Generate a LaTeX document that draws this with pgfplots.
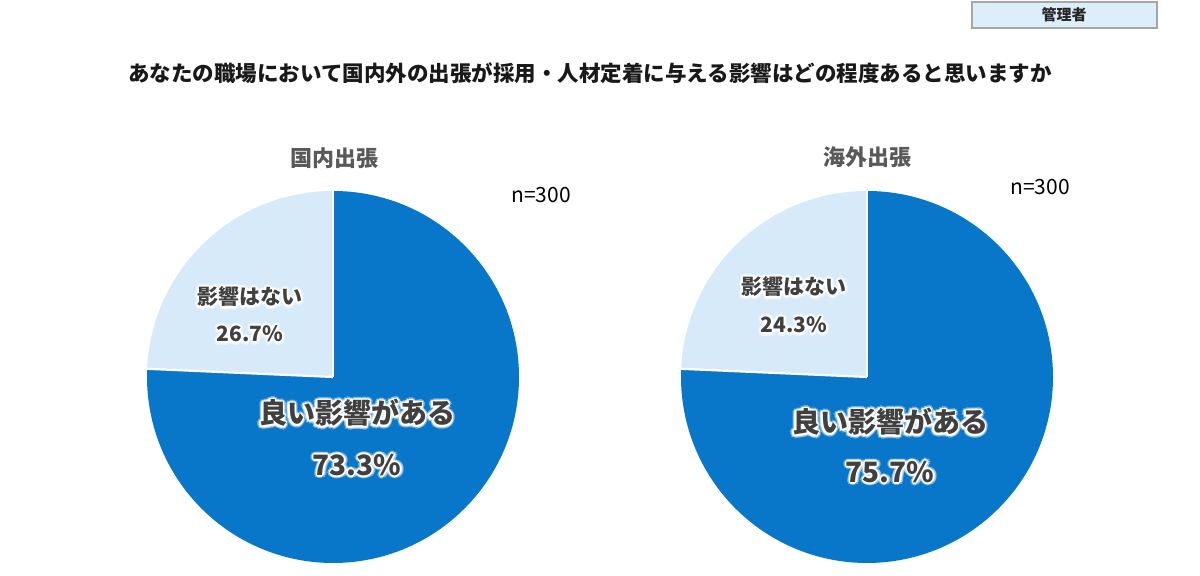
\documentclass[border=0pt]{standalone}
\usepackage{fontspec}
\setmainfont{Noto Sans CJK JP}
\usepackage{pgfplots}
\pgfplotsset{compat=1.18}
\definecolor{pieblue}{RGB}{8,119,201}
\definecolor{pielight}{RGB}{214,234,250}
\definecolor{labgray}{RGB}{64,64,64}
\definecolor{subgray}{RGB}{89,89,89}
\definecolor{boxfill}{RGB}{221,238,251}
\definecolor{boxline}{RGB}{166,166,166}
% data (percent)
\def\domGood{73.3}\def\domNone{26.7}
\def\ovsGood{75.7}\def\ovsNone{24.3}
% glow text: x, y (axis), font, text
\newcommand{\glow}[4]{%
  \node[text=white,opacity=0.4,font=#3,xshift=1.7pt] at (axis cs:#1,#2) {#4};
  \node[text=white,opacity=0.4,font=#3,xshift=-1.7pt] at (axis cs:#1,#2) {#4};
  \node[text=white,opacity=0.4,font=#3,yshift=1.7pt] at (axis cs:#1,#2) {#4};
  \node[text=white,opacity=0.4,font=#3,yshift=-1.7pt] at (axis cs:#1,#2) {#4};
  \node[text=white,opacity=0.4,font=#3,xshift=1.2pt,yshift=1.2pt] at (axis cs:#1,#2) {#4};
  \node[text=white,opacity=0.4,font=#3,xshift=-1.2pt,yshift=1.2pt] at (axis cs:#1,#2) {#4};
  \node[text=white,opacity=0.4,font=#3,xshift=1.2pt,yshift=-1.2pt] at (axis cs:#1,#2) {#4};
  \node[text=white,opacity=0.4,font=#3,xshift=-1.2pt,yshift=-1.2pt] at (axis cs:#1,#2) {#4};
  \node[text=white,font=#3,xshift=0.8pt] at (axis cs:#1,#2) {#4};
  \node[text=white,font=#3,xshift=-0.8pt] at (axis cs:#1,#2) {#4};
  \node[text=white,font=#3,yshift=0.8pt] at (axis cs:#1,#2) {#4};
  \node[text=white,font=#3,yshift=-0.8pt] at (axis cs:#1,#2) {#4};
  \node[text=white,font=#3,xshift=0.57pt,yshift=0.57pt] at (axis cs:#1,#2) {#4};
  \node[text=white,font=#3,xshift=-0.57pt,yshift=0.57pt] at (axis cs:#1,#2) {#4};
  \node[text=white,font=#3,xshift=0.57pt,yshift=-0.57pt] at (axis cs:#1,#2) {#4};
  \node[text=white,font=#3,xshift=-0.57pt,yshift=-0.57pt] at (axis cs:#1,#2) {#4};
  \node[text=labgray,font=#3] at (axis cs:#1,#2) {#4};
}
% pie: center x, center y (axis), good %, radius
\newcommand{\pie}[4]{%
  \pgfmathsetmacro{\endA}{90-3.6*#3}
  \fill[pieblue] (axis cs:#1,#2) -- ++(90:#4) arc[start angle=90, end angle=\endA, radius=#4] -- cycle;
  \fill[pielight] (axis cs:#1,#2) -- ++(\endA:#4) arc[start angle=\endA, end angle=-270, radius=#4] -- cycle;
  \draw[white,line width=1.1pt] (axis cs:#1,#2) -- ++(90:#4);
  \draw[white,line width=1.1pt] (axis cs:#1,#2) -- ++(\endA:#4);
}
\begin{document}
\begin{tikzpicture}
\begin{axis}[
  scale only axis, width=600pt, height=288pt,
  xmin=0, xmax=1200, ymin=0, ymax=576,
  hide axis, clip=false,
]
\path (axis cs:0,0) rectangle (axis cs:1200,576);
% header box
\draw[boxline, fill=boxfill, line width=0.6pt] (axis cs:972,574) rectangle (axis cs:1157,548);
\node[font=\bfseries\fontsize{7.5pt}{9pt}\selectfont, text=black!85] at (axis cs:1064,561) {管理者};
% title
\node[font=\bfseries\fontsize{10.75pt}{12pt}\selectfont, text=black!90] at (axis cs:590,503) {あなたの職場において国内外の出張が採用・人材定着に与える影響はどの程度あると思いますか};
% subtitles
\node[font=\bfseries\fontsize{11pt}{13pt}\selectfont, text=subgray] at (axis cs:334,418) {国内出張};
\node[font=\bfseries\fontsize{11pt}{13pt}\selectfont, text=subgray] at (axis cs:867,419) {海外出張};
\node[font=\fontsize{10.5pt}{12pt}\selectfont, text=black] at (axis cs:541,381) {n=300};
\node[font=\fontsize{10.5pt}{12pt}\selectfont, text=black] at (axis cs:1040,389) {n=300};
% pies
\pie{333}{199}{\domGood}{93pt}
\pie{867}{199}{\ovsGood}{93pt}
% labels
\glow{250}{279}{\bfseries\fontsize{10.5pt}{12pt}\selectfont}{影響はない}
\glow{250}{242}{\bfseries\fontsize{10.5pt}{12pt}\selectfont}{\domNone\%}
\glow{357}{163}{\bfseries\fontsize{14pt}{16pt}\selectfont}{良い影響がある}
\glow{357}{111}{\bfseries\fontsize{14pt}{16pt}\selectfont}{\domGood\%}
\glow{794}{289}{\bfseries\fontsize{10.5pt}{12pt}\selectfont}{影響はない}
\glow{794}{251}{\bfseries\fontsize{10.5pt}{12pt}\selectfont}{\ovsNone\%}
\glow{890}{154}{\bfseries\fontsize{14pt}{16pt}\selectfont}{良い影響がある}
\glow{890}{104}{\bfseries\fontsize{14pt}{16pt}\selectfont}{\ovsGood\%}
\end{axis}
\end{tikzpicture}
\end{document}
